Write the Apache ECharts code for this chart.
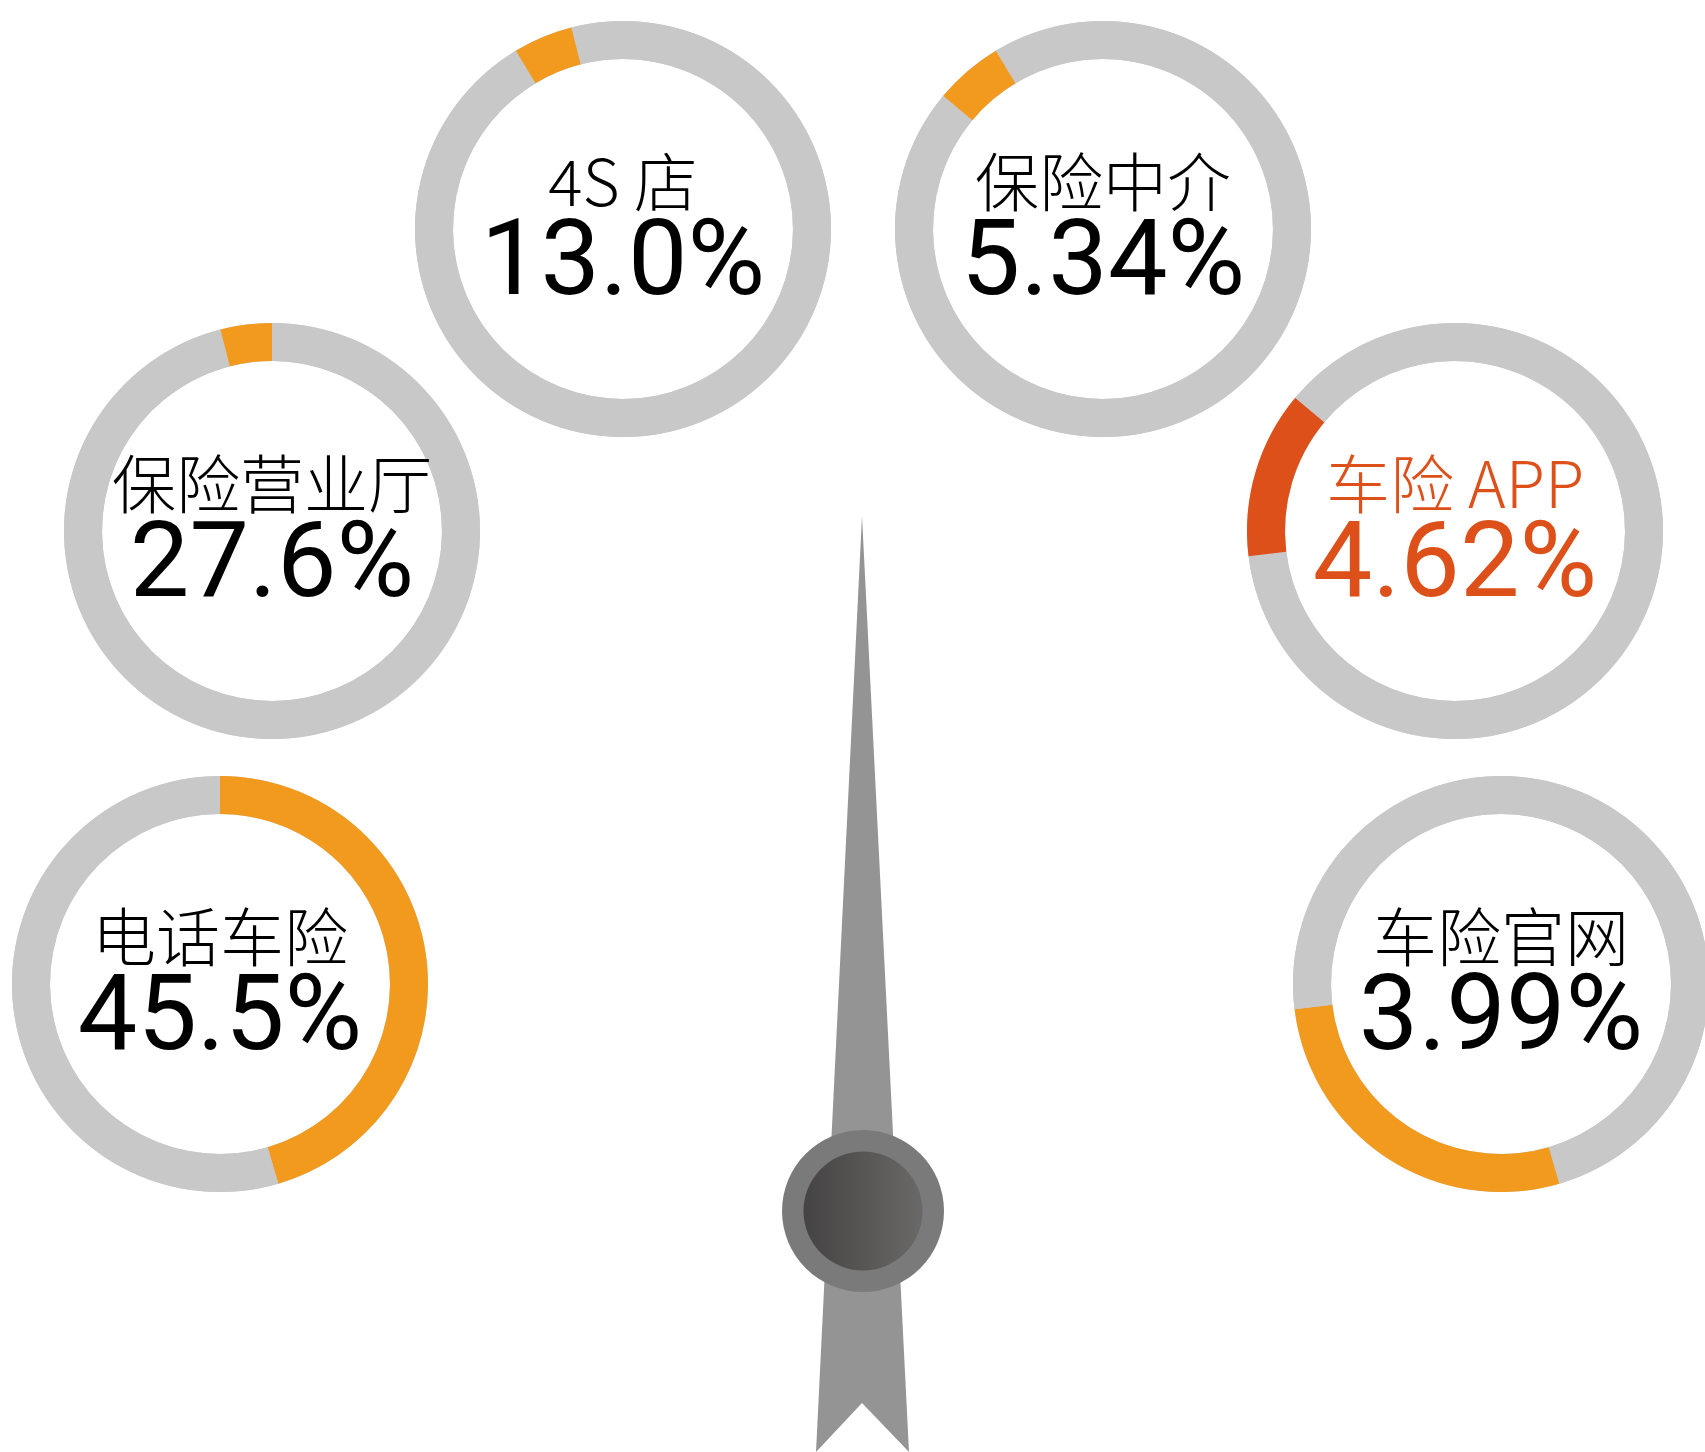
<!DOCTYPE html>
<html>
<head>
<meta charset="UTF-8">
<title>车险投保渠道</title>
<style type="text/css">
   html,body{
      margin:0;
      padding:0;
      background-color:#ffffff;
   }
   #container{
      width:1705px;
      height:1452px;
   }
</style>
</head>
<body>
<div id="container"></div>
<script src="https://cdn.jsdelivr.net/npm/echarts@6/dist/echarts.min.js"></script>
<script type="text/javascript">
// shares of each channel (one pie, split over the six rings)
var channels = ['电话车险', '车险官网', '车险APP', '保险中介', '4S店', '保险营业厅'];
var shares = [45.5, 27.6, 13.0, 5.34, 4.62, 3.99];
// texts printed inside each ring (as in the picture)
var ringTitles = ['电话车险', '车险官网', '车险 APP', '保险中介', '4S 店', '保险营业厅'];
var ringValues = ['45.5%', '3.99%', '4.62%', '5.34%', '13.0%', '27.6%'];

// layout
var ringCenters = [[220, 984], [1501, 984], [1455, 531], [1103, 229], [623, 229], [272, 531]];
var ringColors = ['#F29A1E', '#F29A1E', '#DD5019', '#F29A1E', '#F29A1E', '#F29A1E'];
var textColors = ['#000', '#000', '#DD5019', '#000', '#000', '#000'];
var restColor = '#C8C8C8';

var dom = document.getElementById("container");
var myChart = echarts.init(dom);

var series = [];
channels.forEach(function(c, k){
    // plain grey ring underneath, hides the seams between grey slices
    series.push({
        type: 'pie',
        center: ringCenters[k],
        radius: [170, 208],
        silent: true,
        z: 1,
        label: { show: false },
        labelLine: { show: false },
        itemStyle: { color: restColor, borderWidth: 0 },
        data: [{ name: 'bg', value: 1 }]
    });
    series.push({
        type: 'pie',
        center: ringCenters[k],
        radius: [170, 208],
        startAngle: 90,
        clockwise: true,
        silent: true,
        z: 2,
        avoidLabelOverlap: false,
        itemStyle: { borderWidth: 0 },
        labelLine: { show: false },
        label: { show: false },
        emphasis: { disabled: true },
        data: channels.map(function(name, i){
            var on = (i === k);
            return {
                name: name,
                value: shares[i],
                itemStyle: { color: on ? ringColors[k] : restColor },
                label: on ? {
                    show: true,
                    position: 'center',
                    padding: [6, 0, 0, 0],
                    formatter: '{t|' + ringTitles[k] + '}\n{v|' + ringValues[k] + '}',
                    rich: {
                        t: {
                            fontFamily: '"Noto Sans CJK SC"',
                            fontWeight: 300,
                            fontSize: 64,
                            lineHeight: 70,
                            color: textColors[k]
                        },
                        v: {
                            fontFamily: 'Roboto',
                            fontWeight: 400,
                            fontSize: 106,
                            lineHeight: 100,
                            color: textColors[k]
                        }
                    }
                } : { show: false }
            };
        })
    });
});

var option = {
    backgroundColor: '#ffffff',
    animation: false,
    graphic: [
        {   // needle
            type: 'polygon',
            z: 10,
            shape: { points: [[862, 516], [909, 1452], [862, 1403], [816, 1452]] },
            style: { fill: '#949494' }
        },
        {   // hub
            type: 'circle',
            z: 11,
            shape: { cx: 863, cy: 1211, r: 81 },
            style: { fill: '#7A7A7A' }
        },
        {
            type: 'circle',
            z: 12,
            shape: { cx: 863, cy: 1211, r: 59.5 },
            style: {
                fill: new echarts.graphic.LinearGradient(0, 0, 1, 0, [
                    { offset: 0, color: '#454343' },
                    { offset: 1, color: '#6B6967' }
                ])
            }
        }
    ],
    series: series
};
myChart.setOption(option);
</script>
</body>
</html>
